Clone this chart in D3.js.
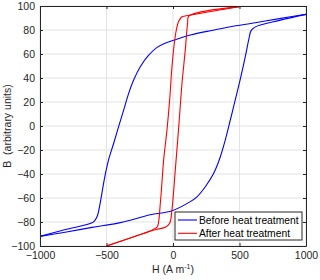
<!DOCTYPE html>
<html>
<head>
<meta charset="utf-8">
<script src="https://cdn.jsdelivr.net/npm/d3@7"></script>
<style>
  body { margin: 0; background: #fff; }
  text { font-family: "Liberation Sans", Arial, sans-serif; }
</style>
</head>
<body>
<div id="chart"></div>
<script>
// blue loop, before heat treatment: descending branch then ascending branch
const beforeDown = [
  [1000, 93], [800, 89.5], [619, 86], [432, 82.7], [300, 79.8], [130, 75.8],
  [5, 71.5], [-60, 69], [-120, 65.5], [-183, 59], [-246, 49.4], [-296, 38.3],
  [-334, 27], [-371, 13.3], [-409, -0.5], [-446, -14.4], [-484, -28],
  [-503, -37], [-523, -48.5], [-547, -64], [-569, -75], [-590, -79],
  [-612, -80.8], [-822, -86.7], [-1000, -92]
]
const beforeUp = [
  [-1000, -92], [-822, -88.7], [-609, -84.5], [-396, -80.5], [-171, -74],
  [-8, -70.6], [130, -63], [180, -59], [243, -50.6], [306, -39.4],
  [356, -25.6], [393, -11.7], [431, 5], [468, 21.7], [506, 39], [544, 58],
  [569, 71.7], [587, 79.5], [619, 82.6], [800, 88], [1000, 93]
]
// red loop, after heat treatment
const afterDown = [
  [500, 99.5], [125, 92.3], [68, 91], [42, 87], [25, 80], [10, 69], [-8, 49],
  [-25, 22], [-45, -3], [-70, -28], [-95, -64], [-116, -83.5], [-133, -85.3],
  [-500, -100]
]
const afterUp = [
  [-500, -100], [-120, -86], [-58, -84.4], [-25, -81], [-8, -70], [17, -37],
  [47, 5], [68, 36], [92, 63], [110, 86], [119, 91.5], [500, 99.5]
]
const xTicks = [-1000, -500, 0, 500, 1000]
const yTicks = [-100, -80, -60, -40, -20, 0, 20, 40, 60, 80, 100]
const seriesNames = ['Before heat treatment', 'After heat treatment']
const seriesColors = ['#0000ff', '#ff0000']

const width = 320, height = 280
const mLeft = 40, mRight = 306, mTop = 6, mBottom = 246
const axisColor = '#262626'

const svg = d3.select('#chart').append('svg')
  .attr('width', width)
  .attr('height', height)

const x = d3.scaleLinear().domain([-1000, 1000]).range([mLeft, mRight])
const y = d3.scaleLinear().domain([-100, 100]).range([mBottom, mTop])

// grid
svg.append('g').selectAll('line').data(xTicks).enter().append('line')
  .attr('x1', d => x(d)).attr('x2', d => x(d))
  .attr('y1', mTop).attr('y2', mBottom)
  .attr('stroke', '#e3e3e3').attr('stroke-width', 1)
svg.append('g').selectAll('line').data(yTicks).enter().append('line')
  .attr('x1', mLeft).attr('x2', mRight)
  .attr('y1', d => y(d)).attr('y2', d => y(d))
  .attr('stroke', '#e3e3e3').attr('stroke-width', 1)

// curves
const line = d3.line()
  .x(d => x(d[0]))
  .y(d => y(d[1]))
  .curve(d3.curveCatmullRom.alpha(0.5))

const loops = [[beforeDown, beforeUp], [afterDown, afterUp]]
loops.forEach((branches, i) => {
  branches.forEach(b => {
    svg.append('path')
      .attr('d', line(b))
      .attr('fill', 'none')
      .attr('stroke', seriesColors[i])
      .attr('stroke-width', 1.1)
  })
})

// axes, matlab style ticks pointing in
const styleAxis = g => {
  g.select('.domain').attr('stroke', axisColor)
  g.selectAll('.tick line').attr('stroke', axisColor)
  g.selectAll('.tick text').attr('fill', axisColor)
    .style('font-family', '"Liberation Sans", Arial, sans-serif')
    .style('font-size', '10.5px')
}
const fmt = d3.format('d')
svg.append('g').attr('transform', `translate(0,${mBottom})`)
  .call(d3.axisBottom(x).tickValues(xTicks).tickFormat(fmt).tickSizeInner(-3).tickSizeOuter(0).tickPadding(6))
  .call(styleAxis)
svg.append('g').attr('transform', `translate(${mLeft},0)`)
  .call(d3.axisLeft(y).tickValues(yTicks).tickFormat(fmt).tickSizeInner(-3).tickSizeOuter(0).tickPadding(5))
  .call(styleAxis)
svg.append('g').attr('transform', `translate(0,${mTop})`)
  .call(d3.axisTop(x).tickValues(xTicks).tickSizeInner(-3).tickSizeOuter(0).tickFormat(''))
  .call(styleAxis)
svg.append('g').attr('transform', `translate(${mRight},0)`)
  .call(d3.axisRight(y).tickValues(yTicks).tickSizeInner(-3).tickSizeOuter(0).tickFormat(''))
  .call(styleAxis)

// axis labels
const xl = svg.append('text')
  .attr('x', (mLeft + mRight) / 2).attr('y', 273)
  .attr('text-anchor', 'middle')
  .attr('fill', axisColor).style('font-size', '10.5px')
xl.append('tspan').text('H (A m')
xl.append('tspan').attr('dy', -4).style('font-size', '7px').text('-1')
xl.append('tspan').attr('dy', 4).text(')')

svg.append('text')
  .attr('transform', `translate(11,${(mTop + mBottom) / 2}) rotate(-90)`)
  .attr('text-anchor', 'middle')
  .attr('fill', axisColor).style('font-size', '10.5px')
  .style('white-space', 'pre')
  .text('B  (arbitrary units)')

// legend
const legend = svg.append('g').attr('transform', 'translate(175,212)')
legend.append('rect')
  .attr('width', 127).attr('height', 28)
  .attr('fill', '#fff').attr('stroke', axisColor).attr('stroke-width', 1)
seriesNames.forEach((name, i) => {
  const ly = 8 + i * 13.3
  legend.append('line')
    .attr('x1', 3).attr('x2', 22).attr('y1', ly).attr('y2', ly)
    .attr('stroke', seriesColors[i]).attr('stroke-width', 1.1)
  legend.append('text')
    .attr('x', 24).attr('y', ly + 3.6)
    .attr('fill', '#000').style('font-size', '10.3px')
    .text(name)
})
</script>
</body>
</html>
